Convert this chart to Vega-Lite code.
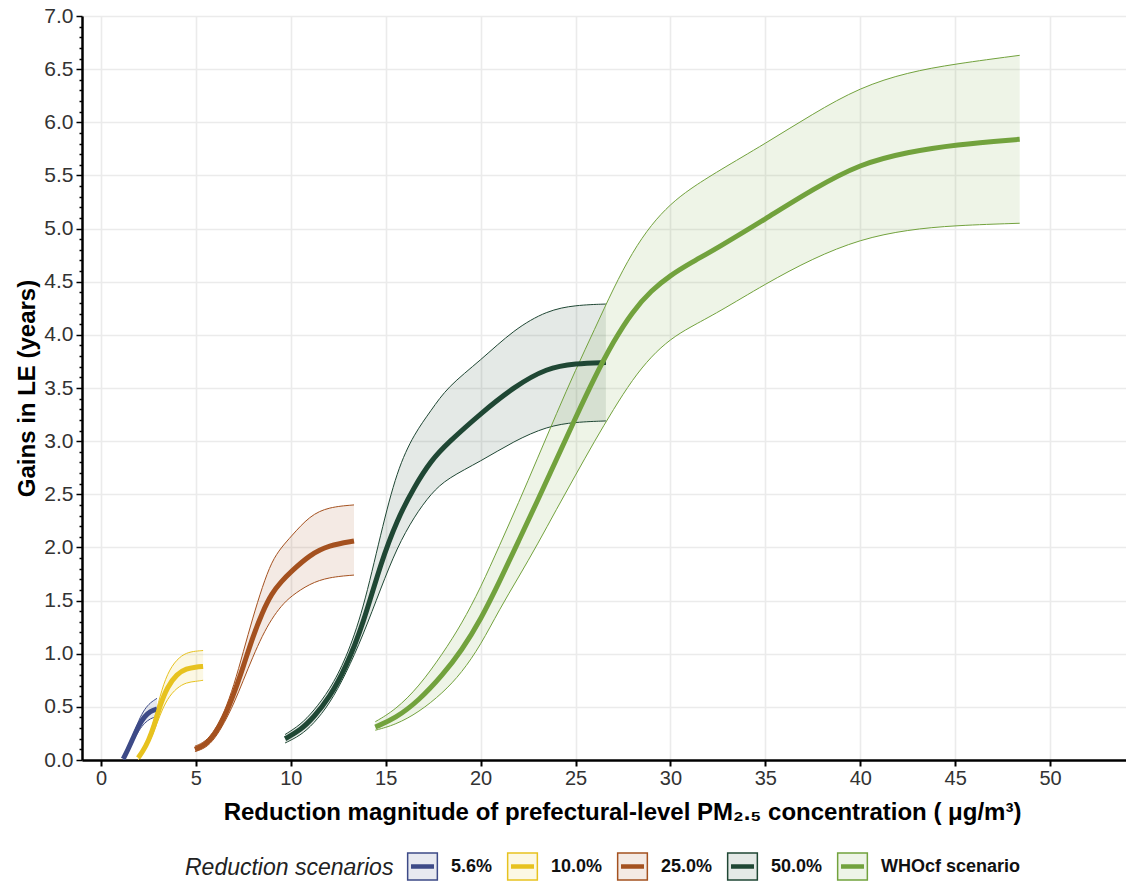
{
  "$schema": "https://vega.github.io/schema/vega-lite/v6.json",
  "width": 1044,
  "height": 744,
  "autosize": {"type": "none"},
  "padding": {"left": 82, "top": 16, "right": 0, "bottom": 123},
  "background": "white",
  "config": {"view": {"stroke": null}, "font": "Liberation Sans"},
  "data": {
    "values": [
      {"s": "5.6%", "x": 1.17, "lo": 0.00, "m": 0.01, "hi": 0.02},
      {"s": "5.6%", "x": 1.4, "lo": 0.07, "m": 0.09, "hi": 0.11},
      {"s": "5.6%", "x": 1.7, "lo": 0.18, "m": 0.21, "hi": 0.24},
      {"s": "5.6%", "x": 2.0, "lo": 0.28, "m": 0.33, "hi": 0.38},
      {"s": "5.6%", "x": 2.3, "lo": 0.35, "m": 0.41, "hi": 0.48},
      {"s": "5.6%", "x": 2.6, "lo": 0.39, "m": 0.46, "hi": 0.54},
      {"s": "5.6%", "x": 2.95, "lo": 0.41, "m": 0.48, "hi": 0.58},

      {"s": "10.0%", "x": 1.96, "lo": 0.00, "m": 0.02, "hi": 0.03},
      {"s": "10.0%", "x": 2.2, "lo": 0.06, "m": 0.08, "hi": 0.10},
      {"s": "10.0%", "x": 2.5, "lo": 0.15, "m": 0.18, "hi": 0.21},
      {"s": "10.0%", "x": 2.8, "lo": 0.27, "m": 0.32, "hi": 0.37},
      {"s": "10.0%", "x": 3.1, "lo": 0.42, "m": 0.51, "hi": 0.60},
      {"s": "10.0%", "x": 3.5, "lo": 0.58, "m": 0.69, "hi": 0.82},
      {"s": "10.0%", "x": 4.0, "lo": 0.68, "m": 0.81, "hi": 0.95},
      {"s": "10.0%", "x": 4.5, "lo": 0.73, "m": 0.86, "hi": 1.01},
      {"s": "10.0%", "x": 5.0, "lo": 0.74, "m": 0.875, "hi": 1.025},
      {"s": "10.0%", "x": 5.38, "lo": 0.75, "m": 0.88, "hi": 1.03},

      {"s": "25.0%", "x": 4.95, "lo": 0.08, "m": 0.10, "hi": 0.13},
      {"s": "25.0%", "x": 5.5, "lo": 0.11, "m": 0.14, "hi": 0.17},
      {"s": "25.0%", "x": 6.0, "lo": 0.20, "m": 0.24, "hi": 0.28},
      {"s": "25.0%", "x": 6.5, "lo": 0.35, "m": 0.40, "hi": 0.45},
      {"s": "25.0%", "x": 7.0, "lo": 0.53, "m": 0.62, "hi": 0.70},
      {"s": "25.0%", "x": 7.5, "lo": 0.75, "m": 0.88, "hi": 1.02},
      {"s": "25.0%", "x": 8.0, "lo": 0.97, "m": 1.16, "hi": 1.34},
      {"s": "25.0%", "x": 8.5, "lo": 1.17, "m": 1.39, "hi": 1.63},
      {"s": "25.0%", "x": 9.0, "lo": 1.33, "m": 1.57, "hi": 1.87},
      {"s": "25.0%", "x": 9.5, "lo": 1.45, "m": 1.68, "hi": 2.00},
      {"s": "25.0%", "x": 10.0, "lo": 1.54, "m": 1.77, "hi": 2.10},
      {"s": "25.0%", "x": 11.0, "lo": 1.66, "m": 1.93, "hi": 2.30},
      {"s": "25.0%", "x": 12.0, "lo": 1.72, "m": 2.02, "hi": 2.38},
      {"s": "25.0%", "x": 13.33, "lo": 1.74, "m": 2.06, "hi": 2.40},

      {"s": "50.0%", "x": 9.7, "lo": 0.16, "m": 0.20, "hi": 0.24},
      {"s": "50.0%", "x": 10.5, "lo": 0.23, "m": 0.28, "hi": 0.33},
      {"s": "50.0%", "x": 11.2, "lo": 0.34, "m": 0.40, "hi": 0.46},
      {"s": "50.0%", "x": 12.05, "lo": 0.53, "m": 0.59, "hi": 0.66},
      {"s": "50.0%", "x": 12.9, "lo": 0.81, "m": 0.87, "hi": 0.95},
      {"s": "50.0%", "x": 13.8, "lo": 1.17, "m": 1.27, "hi": 1.40},
      {"s": "50.0%", "x": 14.75, "lo": 1.62, "m": 1.86, "hi": 2.14},
      {"s": "50.0%", "x": 15.6, "lo": 2.00, "m": 2.26, "hi": 2.73},
      {"s": "50.0%", "x": 16.5, "lo": 2.29, "m": 2.57, "hi": 3.07},
      {"s": "50.0%", "x": 17.4, "lo": 2.51, "m": 2.82, "hi": 3.29},
      {"s": "50.0%", "x": 18.25, "lo": 2.65, "m": 2.98, "hi": 3.51},
      {"s": "50.0%", "x": 20.0, "lo": 2.81, "m": 3.26, "hi": 3.76},
      {"s": "50.0%", "x": 21.75, "lo": 3.00, "m": 3.51, "hi": 4.05},
      {"s": "50.0%", "x": 23.5, "lo": 3.14, "m": 3.69, "hi": 4.23},
      {"s": "50.0%", "x": 25.0, "lo": 3.18, "m": 3.73, "hi": 4.28},
      {"s": "50.0%", "x": 26.6, "lo": 3.19, "m": 3.74, "hi": 4.29},

      {"s": "WHOcf scenario", "x": 14.45, "lo": 0.28, "m": 0.31, "hi": 0.36},
      {"s": "WHOcf scenario", "x": 15.5, "lo": 0.33, "m": 0.39, "hi": 0.47},
      {"s": "WHOcf scenario", "x": 16.75, "lo": 0.45, "m": 0.56, "hi": 0.69},
      {"s": "WHOcf scenario", "x": 18.0, "lo": 0.63, "m": 0.80, "hi": 1.00},
      {"s": "WHOcf scenario", "x": 19.0, "lo": 0.82, "m": 1.03, "hi": 1.28},
      {"s": "WHOcf scenario", "x": 20.0, "lo": 1.08, "m": 1.32, "hi": 1.62},
      {"s": "WHOcf scenario", "x": 21.0, "lo": 1.42, "m": 1.68, "hi": 2.02},
      {"s": "WHOcf scenario", "x": 22.0, "lo": 1.72, "m": 2.06, "hi": 2.42},
      {"s": "WHOcf scenario", "x": 23.0, "lo": 2.03, "m": 2.44, "hi": 2.84},
      {"s": "WHOcf scenario", "x": 24.0, "lo": 2.36, "m": 2.83, "hi": 3.26},
      {"s": "WHOcf scenario", "x": 25.0, "lo": 2.68, "m": 3.22, "hi": 3.67},
      {"s": "WHOcf scenario", "x": 26.0, "lo": 3.00, "m": 3.60, "hi": 4.05},
      {"s": "WHOcf scenario", "x": 27.0, "lo": 3.30, "m": 3.94, "hi": 4.44},
      {"s": "WHOcf scenario", "x": 28.0, "lo": 3.58, "m": 4.22, "hi": 4.78},
      {"s": "WHOcf scenario", "x": 29.0, "lo": 3.80, "m": 4.42, "hi": 5.04},
      {"s": "WHOcf scenario", "x": 30.0, "lo": 3.96, "m": 4.56, "hi": 5.23},
      {"s": "WHOcf scenario", "x": 31.0, "lo": 4.07, "m": 4.67, "hi": 5.37},
      {"s": "WHOcf scenario", "x": 32.5, "lo": 4.21, "m": 4.82, "hi": 5.54},
      {"s": "WHOcf scenario", "x": 35.0, "lo": 4.48, "m": 5.09, "hi": 5.80},
      {"s": "WHOcf scenario", "x": 37.5, "lo": 4.72, "m": 5.37, "hi": 6.08},
      {"s": "WHOcf scenario", "x": 40.0, "lo": 4.90, "m": 5.61, "hi": 6.33},
      {"s": "WHOcf scenario", "x": 42.5, "lo": 4.99, "m": 5.72, "hi": 6.47},
      {"s": "WHOcf scenario", "x": 45.0, "lo": 5.03, "m": 5.79, "hi": 6.55},
      {"s": "WHOcf scenario", "x": 48.4, "lo": 5.05, "m": 5.84, "hi": 6.63}
    ]
  },
  "encoding": {
    "x": {
      "field": "x",
      "type": "quantitative",
      "scale": {"domain": [-1, 54], "nice": false, "zero": false},
      "axis": {
        "title": "Reduction magnitude of prefectural-level PM₂.₅ concentration ( μg/m³)",
        "values": [0, 5, 10, 15, 20, 25, 30, 35, 40, 45, 50],
        "grid": true,
        "gridColor": "#ebebeb",
        "gridWidth": 1.6,
        "domainColor": "#000000",
        "domainWidth": 2.5,
        "tickColor": "#000000",
        "tickWidth": 2,
        "tickSize": 6,
        "labelFontSize": 20,
        "labelColor": "#333333",
        "labelPadding": 2,
        "titleFontSize": 24,
        "titleFontWeight": "bold",
        "titleColor": "#000000",
        "titlePadding": 12,
        "titleX": 540,
        "titleAlign": "center",
        "titleAnchor": "start"
      }
    },
    "color": {
      "field": "s",
      "type": "nominal",
      "scale": {
        "domain": ["5.6%", "10.0%", "25.0%", "50.0%", "WHOcf scenario"],
        "range": ["#3d4a87", "#e7c21f", "#a4511f", "#1f4734", "#72a23d"]
      },
      "legend": {
        "title": "Reduction scenarios",
        "orient": "none",
        "legendX": 103,
        "legendY": 836,
        "direction": "horizontal",
        "titleOrient": "left",
        "titleFontStyle": "italic",
        "titleFontWeight": "normal",
        "titleFontSize": 23,
        "titleColor": "#222222",
        "titlePadding": 14,
        "titleLimit": 400,
        "labelFontSize": 18,
        "labelFontWeight": "bold",
        "labelColor": "#111111",
        "labelOffset": 14,
        "labelLimit": 300,
        "columnPadding": 11,
        "symbolType": "M-1.1,-1H1.1V1H-1.1Z M-0.85,-0.11H0.85 M-0.85,0H0.85 M-0.85,0.11H0.85",
        "symbolSize": 729,
        "symbolStrokeWidth": 1.5,
        "encode": {
          "symbols": {
            "update": {
              "fill": {"scale": "color", "field": "value"},
              "fillOpacity": {"value": 0.12},
              "stroke": {"scale": "color", "field": "value"},
              "strokeWidth": {"value": 1.5},
              "opacity": {"value": 1}
            }
          }
        }
      }
    },
    "y": {
      "field": "m",
      "type": "quantitative",
      "title": "Gains in LE (years)",
      "scale": {"domain": [0, 7], "nice": false},
      "axis": {
        "values": [0, 0.1, 0.2, 0.3, 0.4, 0.5, 0.6, 0.7, 0.8, 0.9, 1, 1.1, 1.2, 1.3, 1.4, 1.5, 1.6, 1.7, 1.8, 1.9, 2, 2.1, 2.2, 2.3, 2.4, 2.5, 2.6, 2.7, 2.8, 2.9, 3, 3.1, 3.2, 3.3, 3.4, 3.5, 3.6, 3.7, 3.8, 3.9, 4, 4.1, 4.2, 4.3, 4.4, 4.5, 4.6, 4.7, 4.8, 4.9, 5, 5.1, 5.2, 5.3, 5.4, 5.5, 5.6, 5.7, 5.8, 5.9, 6, 6.1, 6.2, 6.3, 6.4, 6.5, 6.6, 6.7, 6.8, 6.9, 7],
        "labelExpr": "abs(datum.value*2 - round(datum.value*2)) < 0.001 ? format(datum.value, '.1f') : ''",
        "labelOverlap": false,
        "grid": true,
        "gridColor": "#ebebeb",
        "gridWidth": 1.6,
        "gridOpacity": {"condition": {"test": "abs(datum.value*2 - round(datum.value*2)) < 0.001", "value": 1}, "value": 0},
        "tickSize": {"condition": {"test": "abs(datum.value*2 - round(datum.value*2)) < 0.001", "value": 6}, "value": 3},
        "domainColor": "#000000",
        "domainWidth": 2.5,
        "tickColor": "#000000",
        "tickWidth": 1.5,
        "labelFontSize": 21,
        "labelColor": "#333333",
        "labelPadding": 3,
        "titleFontSize": 24,
        "titleFontWeight": "bold",
        "titleColor": "#000000",
        "titlePadding": 4
      }
    }
  },
  "layer": [
    {
      "mark": {"type": "area", "interpolate": "basis", "fillOpacity": 0.12},
      "encoding": {
        "y": {"field": "lo", "type": "quantitative", "title": "Gains in LE (years)", "scale": {"domain": [0, 7], "nice": false}},
        "y2": {"field": "hi"}
      }
    },
    {
      "mark": {"type": "line", "interpolate": "basis", "strokeWidth": 1},
      "encoding": {
        "y": {"field": "lo", "type": "quantitative", "title": "Gains in LE (years)", "scale": {"domain": [0, 7], "nice": false}}
      }
    },
    {
      "mark": {"type": "line", "interpolate": "basis", "strokeWidth": 1},
      "encoding": {
        "y": {"field": "hi", "type": "quantitative", "title": "Gains in LE (years)", "scale": {"domain": [0, 7], "nice": false}}
      }
    },
    {
      "mark": {"type": "line", "interpolate": "basis", "strokeWidth": 5}
    }
  ]
}
